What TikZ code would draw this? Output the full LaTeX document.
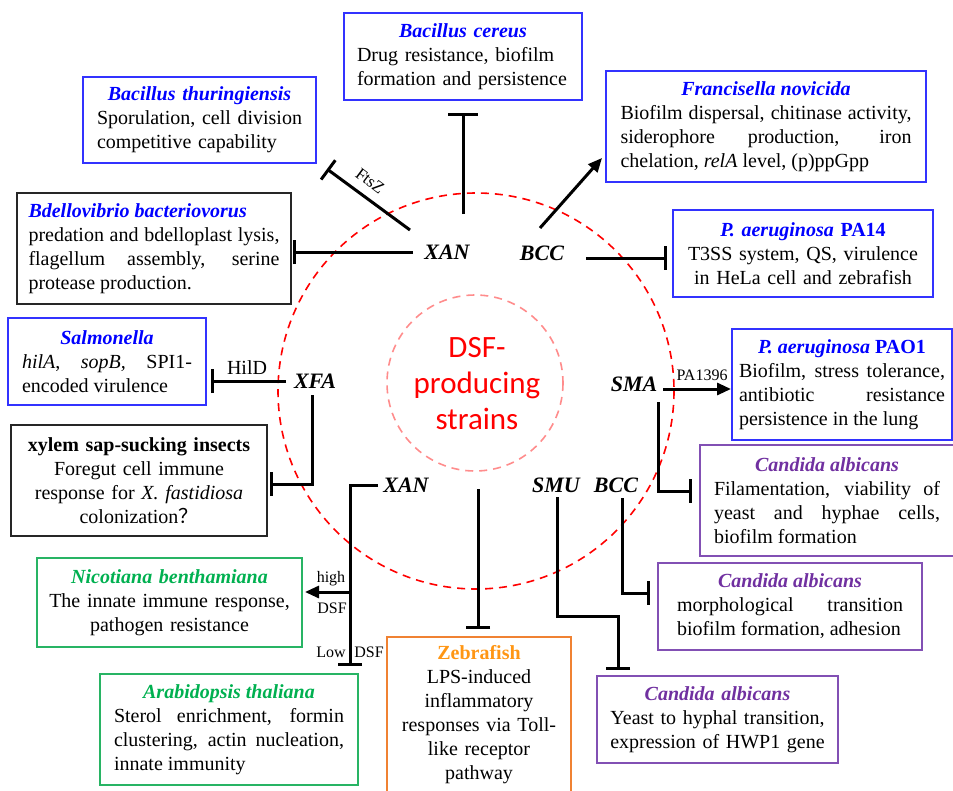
\documentclass[tikz,border=0pt]{standalone}
\usepackage{fontspec}
\setmainfont{Liberation Serif}
\newfontfamily\calibri{Carlito}
\newfontfamily\cjk{Noto Sans CJK SC}
\usetikzlibrary{arrows.meta}
\definecolor{tblue}{RGB}{0,0,255}
\definecolor{bblue}{RGB}{50,50,255}
\definecolor{tgreen}{RGB}{0,176,80}
\definecolor{bgreen}{RGB}{40,180,100}
\definecolor{tpurple}{RGB}{112,48,160}
\definecolor{bpurple}{RGB}{130,80,180}
\definecolor{torange}{RGB}{255,150,20}
\definecolor{borange}{RGB}{240,130,50}
\newcommand{\ttl}[2]{{\centering\leavevmode\bfseries\itshape\color{#1}#2\par}}

\begin{document}
\begin{tikzpicture}[x=1pt,y=-1pt,
  box/.style={draw,line width=1.6pt,inner xsep=0pt,inner ysep=2pt,align=justify,
    font=\fontsize{20}{24}\selectfont},
  strain/.style={font=\fontsize{22}{26}\selectfont\bfseries\itshape,inner sep=2pt},
  small/.style={font=\fontsize{16}{18}\selectfont,inner sep=1pt},
  inh/.style={line width=3pt,-{Bar[width=#1]}},
  inh/.default=24pt,
  act/.style={line width=3pt,-{Triangle[length=14pt,width=12pt]}}]
  \useasboundingbox (0,0) rectangle (953,790);

  \draw [red,line width=1.6pt,dash pattern=on 8pt off 6pt] (476,391) circle (198);
  \draw [red!45,line width=1.6pt,dash pattern=on 8pt off 6pt] (475,383) circle (88);
  \node [text=red,align=center,font=\calibri\fontsize{31}{36}\selectfont] (core) at (477,384) {DSF-\\producing\\strains};

  \node [box,draw=bblue,align=left,minimum width=238pt,minimum height=87pt,text width=212pt] (cereus) at (463,56.5)
    {\ttl{tblue}{Bacillus cereus}Drug resistance, biofilm\\formation and persistence};
  \node [box,draw=bblue,align=left,minimum width=233pt,minimum height=86pt,text width=205pt] (thur) at (199.5,120)
    {\ttl{tblue}{Bacillus thuringiensis}Sporulation, cell division\\competitive capability};
  \node [box,draw=bblue,minimum width=320pt,minimum height=111pt,text width=291pt] (franc) at (766,126.5)
    {\ttl{tblue}{Francisella novicida}Biofilm dispersal, chitinase activity,\linebreak siderophore production, iron\linebreak chelation, \textit{relA} level, (p)ppGpp};
  \node [box,draw=black!85,minimum width=274pt,minimum height=111pt,text width=251pt] (bdello) at (154,248.5)
    {{\leavevmode\bfseries\itshape\color{tblue}Bdellovibrio bacteriovorus\par}predation and bdelloplast lysis,\linebreak flagellum assembly, serine\linebreak protease production.};
  \node [box,draw=bblue,align=center,minimum width=260pt,minimum height=87pt,text width=240pt] (pa14) at (803,253.5)
    {\ttl{tblue}{P. aeruginosa \upshape PA14}T3SS system, QS, virulence\\in HeLa cell and zebrafish};
  \node [box,draw=bblue,minimum width=198pt,minimum height=87pt,text width=170pt] (salm) at (107,361.5)
    {\ttl{tblue}{Salmonella}\textit{hilA}, \textit{sopB,} SPI1-\linebreak encoded virulence};
  \node [box,draw=bblue,minimum width=220pt,minimum height=111pt,text width=206pt] (pao1) at (842,384.5)
    {\ttl{tblue}{P. aeruginosa \upshape PAO1}Biofilm, stress tolerance,\linebreak antibiotic resistance\linebreak persistence in the lung};
  \node [box,draw=black!85,align=center,minimum width=256pt,minimum height=111pt,text width=240pt] (xylem) at (139,480.5)
    {{\centering\bfseries xylem sap-sucking insects\par}Foregut cell immune\\response for \textit{X. fastidiosa}\\colonization{\cjk ？}};
  \node [box,draw=bpurple,minimum width=254pt,minimum height=111pt,text width=226pt] (cand1) at (827,500.5)
    {\ttl{tpurple}{Candida albicans}Filamentation, viability of\linebreak yeast and hyphae cells,\linebreak biofilm formation};
  \node [box,draw=bgreen,align=center,minimum width=265pt,minimum height=89pt,text width=245pt] (nicot) at (169.5,602.5)
    {\ttl{tgreen}{Nicotiana benthamiana}The innate immune response,\\pathogen resistance};
  \node [box,draw=bpurple,minimum width=264pt,minimum height=87pt,text width=226pt] (cand2) at (790,606.5)
    {\ttl{tpurple}{Candida albicans}morphological transition\linebreak biofilm formation, adhesion};
  \node [box,draw=bgreen,minimum width=258pt,minimum height=111pt,text width=230pt] (arabi) at (229,729.5)
    {\ttl{tgreen}{Arabidopsis thaliana}Sterol enrichment, formin\linebreak clustering, actin nucleation,\linebreak innate immunity};
  \node [box,draw=borange,align=center,anchor=north,minimum width=184pt,inner ysep=9pt,text width=170pt] (zebra) at (479,636)
    {{\centering\leavevmode\bfseries\color{torange}Zebrafish\par}LPS-induced\\inflammatory\\responses via Toll-\\like receptor\\pathway};
  \node [box,draw=bpurple,align=center,minimum width=241pt,minimum height=87pt,text width=220pt] (cand3) at (717.5,719.5)
    {\ttl{tpurple}{Candida albicans}Yeast to hyphal transition,\\expression of HWP1 gene};

  \node [strain] (xanT) at (447,252) {XAN};
  \node [strain] (bccT) at (542,253) {BCC};
  \node [strain] (xfa) at (315,381) {XFA};
  \node [strain] (sma) at (634,384) {SMA};
  \node [strain] (xanB) at (406,485) {XAN};
  \node [strain] (smu) at (556,485) {SMU};
  \node [strain] (bccB) at (616,485) {BCC};

  \coordinate (xanT-a) at (463,214); \coordinate (cer-in) at (463,113);
  \coordinate (xanT-b) at (410,230); \coordinate (thu-in) at (327,169);
  \coordinate (xanT-c) at (413,252); \coordinate (bde-in) at (293,252);
  \coordinate (bccT-a) at (540,228); \coordinate (fra-in) at (602,158);
  \coordinate (bccT-b) at (586,258); \coordinate (pa14-in) at (667,258);
  \coordinate (xfa-a) at (286,381); \coordinate (sal-in) at (211,381);
  \coordinate (xfa-b) at (312,395); \coordinate (xyl-in) at (270,484);
  \coordinate (sma-a) at (663,389); \coordinate (pao-in) at (731,389);
  \coordinate (sma-b) at (658,402); \coordinate (ca1-in) at (692,491);
  \coordinate (bccB-a) at (622,498); \coordinate (ca2-in) at (650,593);
  \coordinate (smu-a) at (557,497); \coordinate (smu-k) at (618,616); \coordinate (ca3-in) at (618,670);
  \coordinate (core-a) at (478,489); \coordinate (zeb-in) at (478,629);
  \coordinate (xanB-a) at (378,485); \coordinate (ara-in) at (350,666);
  \coordinate (xanB-m) at (350,592); \coordinate (nic-in) at (305,592);

  \draw [inh=30pt] (xanT-a) -- (cer-in);
  \draw [inh] (xanT-b) -- (thu-in);
  \draw [inh] (xanT-c) -- (bde-in);
  \draw [act] (bccT-a) -- (fra-in);
  \draw [inh] (bccT-b) -- (pa14-in);
  \draw [inh] (xfa-a) -- (sal-in);
  \draw [inh] (xfa-b) |- (xyl-in);
  \draw [act] (sma-a) -- (pao-in);
  \draw [inh] (sma-b) |- (ca1-in);
  \draw [inh] (bccB-a) |- (ca2-in);
  \draw [inh] (smu-a) |- (smu-k) -- (ca3-in);
  \draw [inh] (core-a) -- (zeb-in);
  \draw [inh] (xanB-a) -| (ara-in);
  \draw [act] (xanB-m) -- (nic-in);

  \node [small,font=\fontsize{17}{18}\selectfont,rotate=-37] (ftsz) at (370,181) {FtsZ};
  \node [font=\fontsize{20}{24}\selectfont,inner sep=1pt] (hild) at (247,368) {HilD};
  \node [small] (pa1396) at (702,375) {PA1396};
  \node [small] (high) at (331,579) {high};
  \node [small] (dsfH) at (332,608) {DSF};
  \node [small] (low) at (331,652) {Low};
  \node [small] (dsfL) at (369,652) {DSF};
\end{tikzpicture}
\end{document}
